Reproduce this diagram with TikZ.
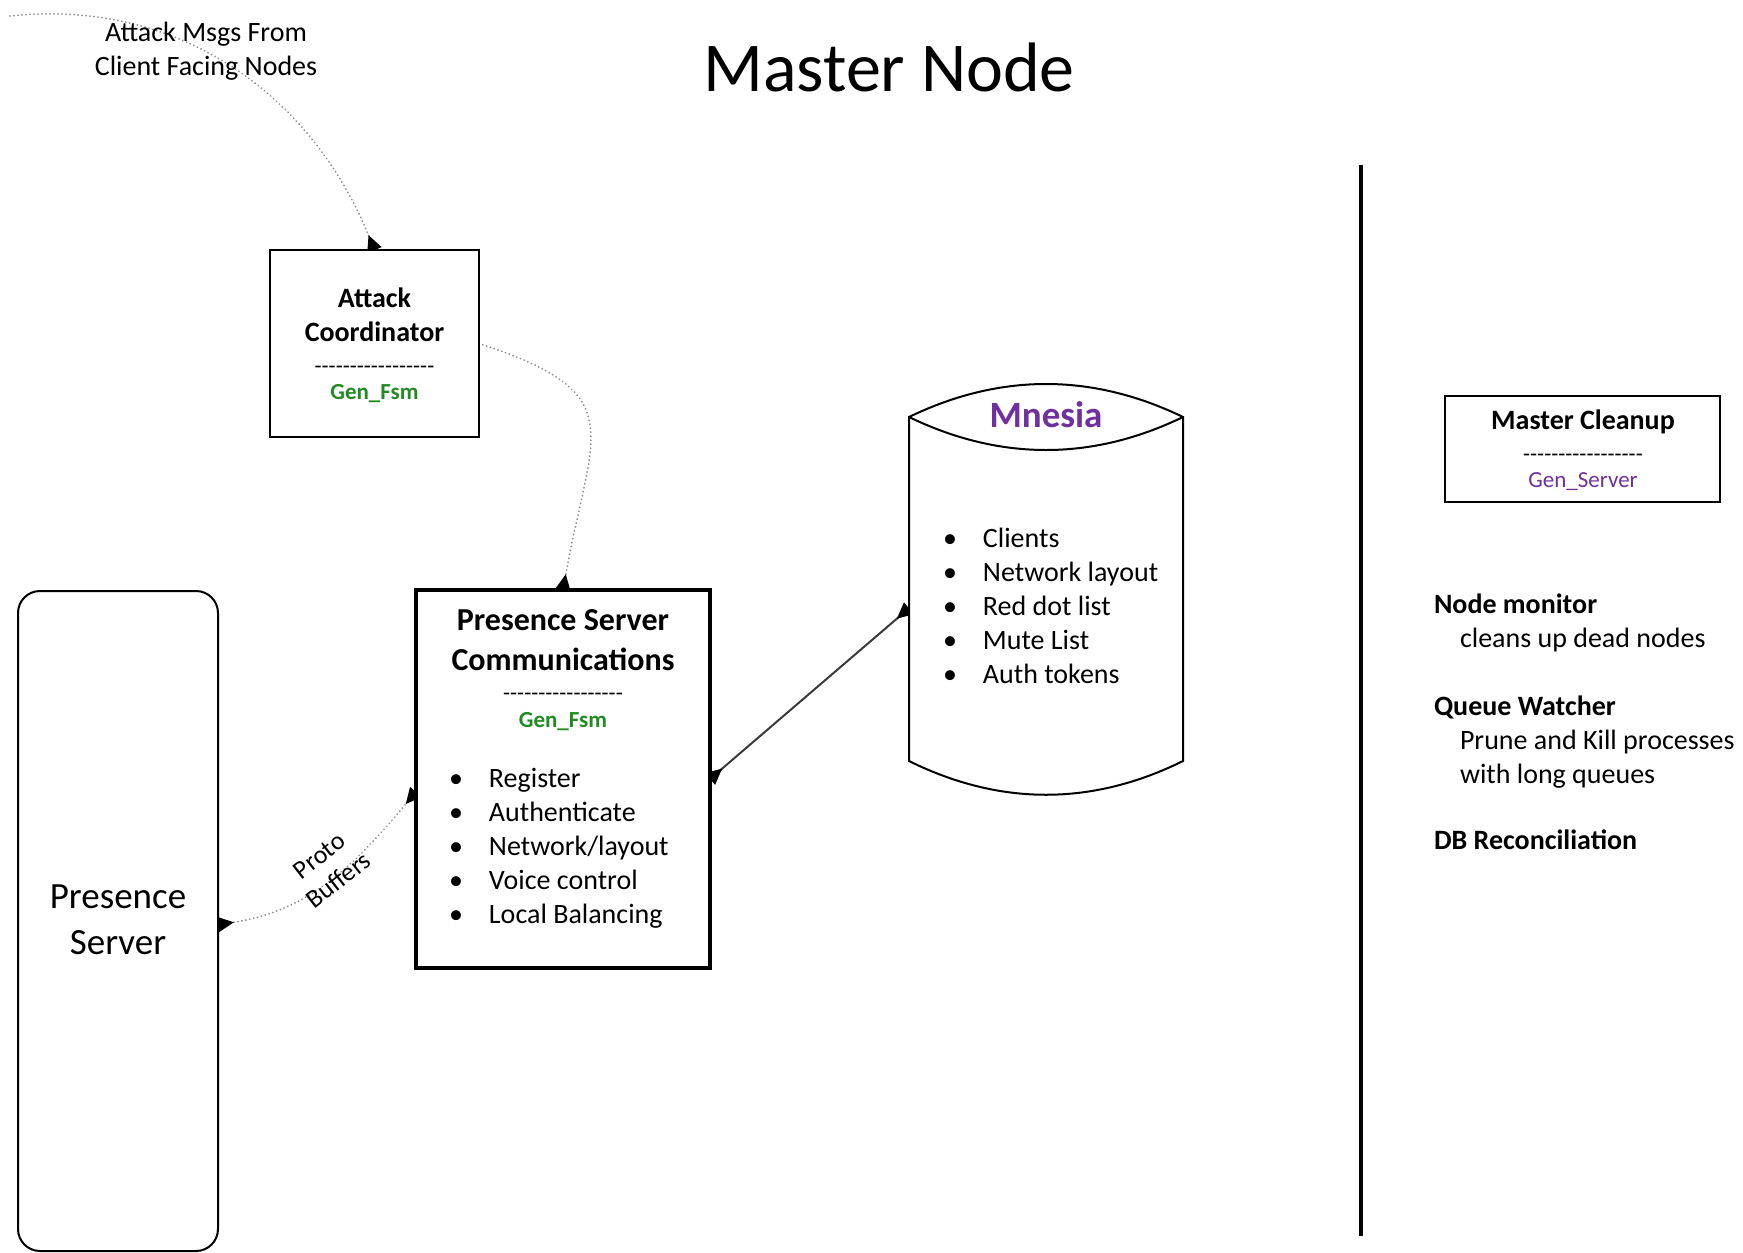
\documentclass[tikz,border=0pt]{standalone}
\usepackage{fontspec}
\setmainfont{Carlito}
\usetikzlibrary{arrows.meta,backgrounds}
\definecolor{fsmgreen}{HTML}{238B23}
\definecolor{mnpurple}{HTML}{7030A0}
\definecolor{dotgray}{HTML}{8E8E8E}
\definecolor{linkgray}{HTML}{3A3A3A}
\newcommand{\fsz}[2]{\fontsize{#1}{#2}\selectfont}
\ExplSyntaxOn
\cs_new:Npn \hyrule #1 { \prg_replicate:nn {#1} { -{} } }
\ExplSyntaxOff

\begin{document}
\begin{tikzpicture}[x=1pt,y=-1pt,
  every node/.style={inner sep=0pt, outer sep=0pt},
  procbox/.style={draw, fill=white, line width=2pt},
  boldtxt/.style={font=\bfseries\fsz{28}{34}, align=center},
  plaintxt/.style={font=\fsz{28}{34}},
  smalltxt/.style={font=\fsz{23}{28}},
  listtxt/.style={font=\fsz{28}{34}, anchor=base west},
  endtip/.tip={Triangle[reversed,length=16pt,width=15pt,color=black]},
  dotlink/.style={draw=dotgray, line width=2pt, dash pattern=on 0.01pt off 4pt, line cap=round},
  solidlink/.style={draw=linkgray, line width=2pt}]

\useasboundingbox (0,0) rectangle (1743,1253);

% heading
\node[font=\fsz{70}{84}] (title) at (889,67) {Master Node};

% incoming message caption
\node[plaintxt, align=center] (msgs) at (206,51) {Attack Msgs From\\Client Facing Nodes};
\coordinate (msgsrc) at (10,16);

% attack coordinator process
\node[procbox, minimum width=209pt, minimum height=187pt] (ac) at (374.5,343.5) {};
\node[boldtxt] (acname) at (374.5,315) {Attack\\Coordinator};
\node[smalltxt] (acrule) at (374.5,370) {\hyrule{17}};
\node[font=\bfseries\fsz{23}{28}, text=fsmgreen] (actype) at (374.5,394) {Gen\_Fsm};

% presence server communications process
\node[draw, fill=white, line width=3.5pt, minimum width=294pt, minimum height=378pt] (psc) at (563,779) {};
\node[font=\bfseries\fsz{32}{40}, align=center] (pscname) at (563,640) {Presence Server\\Communications};
\node[smalltxt] (pscrule) at (563,697) {\hyrule{17}};
\node[font=\bfseries\fsz{23}{28}, text=fsmgreen] (psctype) at (563,722) {Gen\_Fsm};
\node[listtxt] (psclist) at (449,787) {\begin{tabular}[t]{@{}p{40pt}@{}l@{}}
  • & Register\\
  • & Authenticate\\
  • & Network/layout\\
  • & Voice control\\
  • & Local Balancing
\end{tabular}};

% mnesia store
\node[minimum width=274pt, minimum height=344pt] (mn) at (1046,589) {};
\draw[line width=2pt, fill=white] (909,417) .. controls (1000,373) and (1092,373) .. (1183,417)
  -- (1183,761) .. controls (1092,806) and (1000,806) .. (909,761) -- cycle;
\draw[line width=2pt] (909,417) .. controls (1000,461) and (1092,461) .. (1183,417);
\node[font=\bfseries\fsz{37}{44}, text=mnpurple] (mnname) at (1046,415) {Mnesia};
\node[listtxt] (mnlist) at (943,547) {\begin{tabular}[t]{@{}p{40pt}@{}l@{}}
  • & Clients\\
  • & Network layout\\
  • & Red dot list\\
  • & Mute List\\
  • & Auth tokens
\end{tabular}};

% presence server
\node[draw, fill=white, line width=2pt, rounded corners=22pt, minimum width=200pt, minimum height=660pt] (ps) at (118,921) {};
\node[font=\fsz{37}{46}, align=center] (psname) at (118,920) {Presence\\Server};

% divider
\coordinate (divtop) at (1361,165);
\coordinate (divbot) at (1361,1236);
\draw[line width=4pt] (divtop) -- (divbot);

% master cleanup process
\node[procbox, minimum width=275pt, minimum height=106pt] (mc) at (1582.5,448.5) {};
\node[boldtxt] (mcname) at (1583,422) {Master Cleanup};
\node[smalltxt] (mcrule) at (1583,458) {\hyrule{17}};
\node[smalltxt, text=mnpurple] (mctype) at (1583,482) {Gen\_Server};

% cleanup duties
\node[boldtxt, anchor=base west] (nm) at (1434,613) {Node monitor};
\node[plaintxt, anchor=base west] (nmd) at (1460,647) {cleans up dead nodes};
\node[boldtxt, anchor=base west] (qw) at (1434,715) {Queue Watcher};
\node[plaintxt, anchor=base west] (qwd) at (1460,749) {Prune and Kill processes};
\node[plaintxt, anchor=base west] (qwd2) at (1460,783) {with long queues};
\node[boldtxt, anchor=base west] (dbr) at (1434,849) {DB Reconciliation};

% connectors, kept beneath the boxes
\begin{scope}[on background layer]
  \draw[dotlink, -endtip] (msgsrc) to[out=6, in=112] (ac.north);
  \draw[dotlink, -endtip] (ac.east) to[out=-18, in=80, looseness=1.6] (psc.north);
  \draw[dotlink, endtip-endtip] (psc.185) to[out=230, in=8] (ps.-2);
  \draw[solidlink, endtip-endtip] (psc.east) -- (mn.188);
\end{scope}
\node[font=\fsz{26}{31}, align=center, rotate=38] (pb) at (329,868) {Proto\\Buffers};

\end{tikzpicture}
\end{document}
